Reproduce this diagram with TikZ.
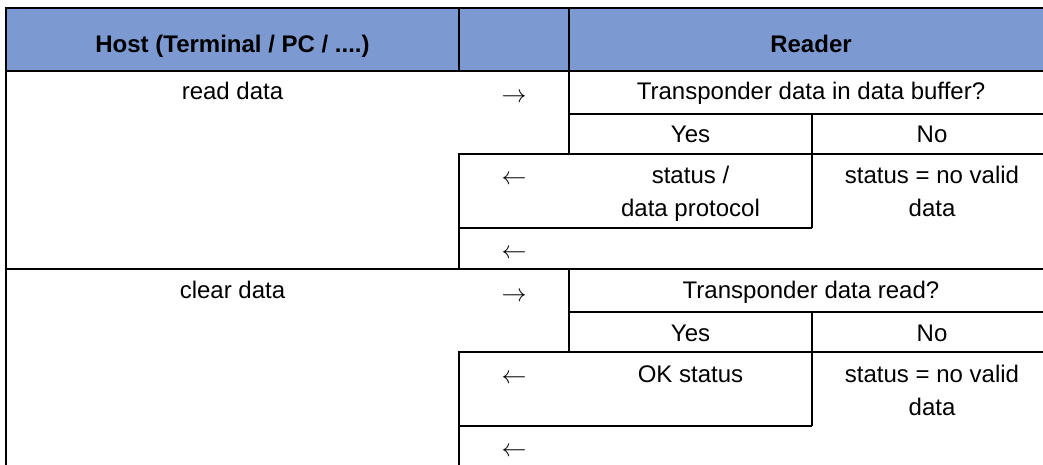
\documentclass[tikz,border=0pt]{standalone}
\usepackage{fontspec}
\setmainfont{Liberation Sans}
\definecolor{headblue}{RGB}{124,153,210}
\begin{document}
\begin{tikzpicture}[x=1pt,y=-1pt,line width=2pt,
  cell/.style={anchor=base,inner sep=0pt,font=\fontsize{24}{33}\selectfont},
  head/.style={cell,font=\fontsize{24}{33}\selectfont\bfseries},
  arr/.style={anchor=base,inner sep=0pt,font=\fontsize{24}{33}\selectfont}]
\useasboundingbox (0,0) rectangle (1043,465);
\clip (0,0) rectangle (1043,465);

% header
\fill[headblue] (6,8) rectangle (1053,71);
\draw (6,8) rectangle (1053,71);
\draw (459,8) -- (459,71);
\draw (569,8) -- (569,71);
\node[head] (host) at (232.5,53) {Host (Terminal / PC / ....)};
\node[head] (reader) at (811,53) {Reader};

% outer border
\draw (6,71) -- (6,480);
\draw (1053,71) -- (1053,480);

% read data
\draw (569,71) -- (569,154);
\draw (569,114) -- (1053,114);
\draw (459,269) -- (459,154) -- (1053,154);
\draw (812,114) -- (812,228);
\draw (459,228) -- (812,228);
\draw (6,269) -- (1053,269);

\node[cell] (read) at (232.5,100) {read data};
\node[arr] (readto) at (514,103) {$\rightarrow$};
\node[cell] (readq) at (811,100) {Transponder data in data buffer?};
\node[cell] (readyes) at (690.5,143) {Yes};
\node[cell] (readno) at (932,143) {No};
\node[arr] (readback) at (514,185) {$\leftarrow$};
% base of a two-line node is its last line
\node[cell,align=center] (readstat) at (690.5,216) {status /\\data protocol};
\node[cell,align=center] (readerr) at (932,216) {status = no valid\\data};
\node[arr] (readend) at (514,258) {$\leftarrow$};

% clear data
\draw (569,269) -- (569,352);
\draw (569,312) -- (1053,312);
\draw (459,480) -- (459,352) -- (1053,352);
\draw (812,312) -- (812,426);
\draw (459,426) -- (812,426);
\draw (6,467) -- (1053,467);

\node[cell] (clear) at (232.5,298) {clear data};
\node[arr] (clearto) at (514,301) {$\rightarrow$};
\node[cell] (clearq) at (811,298) {Transponder data read?};
\node[cell] (clearyes) at (690.5,341) {Yes};
\node[cell] (clearno) at (932,341) {No};
\node[arr] (clearback) at (514,383) {$\leftarrow$};
\node[cell] (clearstat) at (690.5,382) {OK status};
\node[cell,align=center] (clearerr) at (932,415) {status = no valid\\data};
\node[arr] (clearend) at (514,456) {$\leftarrow$};
\end{tikzpicture}
\end{document}
